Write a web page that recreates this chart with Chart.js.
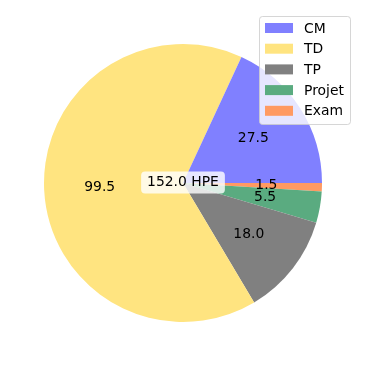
<!DOCTYPE html>
<html>
<head>
<meta charset="utf-8">
<script src="https://cdn.jsdelivr.net/npm/chart.js@4.4.0/dist/chart.umd.min.js"></script>
<style>
  html, body { margin: 0; padding: 0; background: #fff; }
  #wrap { width: 366px; height: 366px; }
</style>
</head>
<body>
<div id="wrap"><canvas id="pie"></canvas></div>
<script>
const categories = ["CM", "TD", "TP", "Projet", "Exam"];
const heures = [27.5, 99.5, 18.0, 5.5, 1.5];
const couleurs = ["#8080ff", "#ffe480", "#808080", "#5aab80", "#ff9a62"];
const unite = "HPE";

const total = heures.reduce((a, b) => a + b, 0);
const police = "13.9px 'DejaVu Sans'";

// matplotlib tourne dans le sens anti-horaire, Chart.js dans le sens horaire :
// on inverse l'ordre et on commence à 3 heures
const labelsInv = categories.slice().reverse();
const dataInv = heures.slice().reverse();
const couleursInv = couleurs.slice().reverse();

function roundRect(ctx, x, y, w, h, r) {
    ctx.beginPath();
    ctx.moveTo(x + r, y);
    ctx.lineTo(x + w - r, y);
    ctx.quadraticCurveTo(x + w, y, x + w, y + r);
    ctx.lineTo(x + w, y + h - r);
    ctx.quadraticCurveTo(x + w, y + h, x + w - r, y + h);
    ctx.lineTo(x + r, y + h);
    ctx.quadraticCurveTo(x, y + h, x, y + h - r);
    ctx.lineTo(x, y + r);
    ctx.quadraticCurveTo(x, y, x + r, y);
    ctx.closePath();
}

const etiquettes = {
    id: "etiquettes",
    afterDatasetsDraw(chart) {
        const ctx = chart.ctx;
        const meta = chart.getDatasetMeta(0);
        ctx.save();
        ctx.font = police;
        ctx.fillStyle = "#000";
        ctx.textAlign = "center";
        ctx.textBaseline = "middle";
        meta.data.forEach((arc, i) => {
            const p = arc.getProps(["x", "y", "startAngle", "endAngle", "outerRadius"], true);
            const a = (p.startAngle + p.endAngle) / 2;
            const r = p.outerRadius * 0.6;
            ctx.fillText(dataInv[i].toFixed(1), p.x + r * Math.cos(a), p.y + r * Math.sin(a));
        });

        // étiquette centrale
        const c = meta.data[0];
        const txt = total.toFixed(1) + " " + unite;
        const w = ctx.measureText(txt).width + 12;
        const h = 22;
        roundRect(ctx, c.x - w / 2, c.y - 11.5, w, h, 4);
        ctx.fillStyle = "rgba(255,255,255,0.8)";
        ctx.fill();
        ctx.fillStyle = "#000";
        ctx.fillText(txt, c.x, c.y - 0.5);
        ctx.restore();
    },
    afterDraw(chart) {
        // légende façon matplotlib, en haut à droite
        const ctx = chart.ctx;
        ctx.save();
        ctx.font = police;
        const x0 = 259.5, y0 = 16.5, lw = 91, lh = 108;
        roundRect(ctx, x0, y0, lw, lh, 3);
        ctx.fillStyle = "rgba(255,255,255,0.8)";
        ctx.fill();
        ctx.strokeStyle = "rgba(204,204,204,0.8)";
        ctx.lineWidth = 1;
        ctx.stroke();
        ctx.textAlign = "left";
        ctx.textBaseline = "middle";
        categories.forEach((cat, i) => {
            const y = 28 + i * 20.7;
            ctx.fillStyle = couleurs[i];
            ctx.fillRect(265, y - 5, 28, 10);
            ctx.fillStyle = "#000";
            ctx.fillText(cat, 304, y + 1);
        });
        ctx.restore();
    }
};

new Chart(document.getElementById("pie"), {
    type: "pie",
    data: {
        labels: labelsInv,
        datasets: [{
            data: dataInv,
            backgroundColor: couleursInv,
            borderWidth: 0,
        }],
    },
    options: {
        responsive: true,
        maintainAspectRatio: false,
        animation: false,
        rotation: 90,
        layout: { padding: 44 },
        plugins: {
            legend: { display: false },
            tooltip: { enabled: false },
        },
    },
    plugins: [etiquettes],
});
</script>
</body>
</html>
